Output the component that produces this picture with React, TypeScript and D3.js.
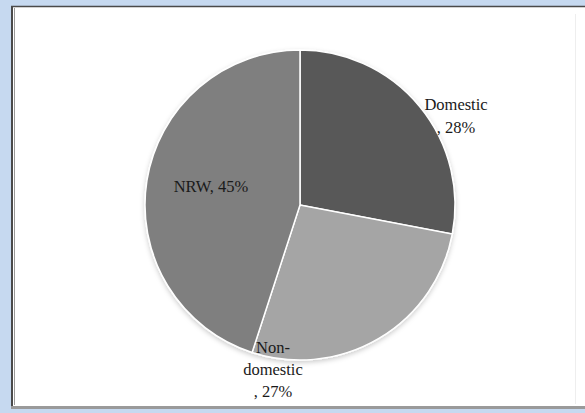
import React from "react";
import * as d3 from "d3";

const categories = ["Domestic", "Non-domestic", "NRW"];
const values = [28, 27, 45];
const labelLines = [["Domestic", ", 28%"], ["Non-", "domestic", ", 27%"], ["NRW, 45%"]];
const colors = ["#595959", "#a5a5a5", "#7f7f7f"];

export default function App() {
  const W = 585, H = 413;
  const cx = 300, cy = 205, r = 155;
  const pie = d3.pie<number>().sort(null).value((d) => d)(values);
  const arc = d3.arc<d3.PieArcDatum<number>>().innerRadius(0).outerRadius(r);
  const labelPos = [
    { x: 156, y: -95, lh: 23 },
    { x: -27, y: 148, lh: 22 },
    { x: -89, y: -13, lh: 22 },
  ];
  return (
    <svg width={W} height={H} style={{ position: "absolute", left: 0, top: 0 }}>
      <defs>
        <filter id="sh" x="-10%" y="-10%" width="120%" height="120%">
          <feDropShadow dx="0" dy="2" stdDeviation="2.5" floodColor="#000" floodOpacity="0.2" />
        </filter>
      </defs>
      <rect x={0} y={0} width={W} height={H} fill="#c6d9f0" />
      <rect x={11} y={6} width={W - 11} height={401} fill="#ffffff" />
      <line x1={11} y1={6.5} x2={W} y2={6.5} stroke="#4a4a4a" strokeWidth={1.5} />
      <line x1={12} y1={6} x2={12} y2={408} stroke="#4a4a4a" strokeWidth={2} />
      <line x1={14.5} y1={8} x2={14.5} y2={405} stroke="#9a9a9a" strokeWidth={1} />
      <rect x={11} y={406} width={W - 11} height={3} fill="#9a9a9a" />
      <line x1={575.5} y1={14} x2={575.5} y2={404} stroke="#eeeeee" strokeWidth={1} />
      <g transform={`translate(${cx},${cy})`} filter="url(#sh)">
        {pie.map((p, i) => (
          <path key={categories[i]} d={arc(p) || ""} fill={colors[i]} stroke="#ffffff" strokeWidth={1.5} />
        ))}
      </g>
      <g fontFamily="Liberation Serif, DejaVu Serif, serif" fontSize={16.5} fill="#1a1a1a" textAnchor="middle">
        {labelLines.map((lines, i) => (
          <text key={categories[i]} x={cx + labelPos[i].x} y={cy + labelPos[i].y}>
            {lines.map((t, j) => (
              <tspan key={j} x={cx + labelPos[i].x} dy={j === 0 ? 0 : labelPos[i].lh}>
                {t}
              </tspan>
            ))}
          </text>
        ))}
      </g>
    </svg>
  );
}
